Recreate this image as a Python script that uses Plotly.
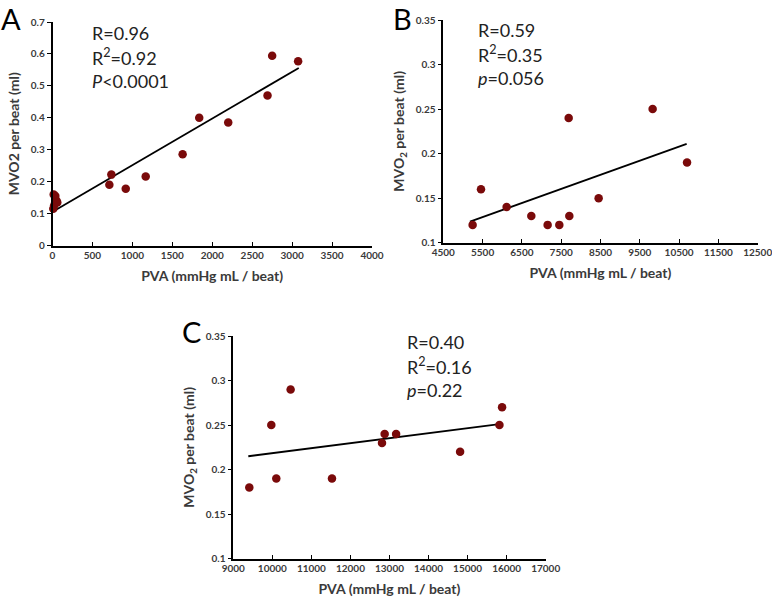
import plotly.graph_objects as go

W, H = 772, 600

# Panel A data
a_pva = [10, 20, 35, 50, 60, 15, 712, 737, 917, 1167, 1629, 1837, 2200, 2692, 2750, 3075]
a_mvo2 = [0.115, 0.125, 0.155, 0.14, 0.135, 0.16, 0.19, 0.222, 0.178, 0.216, 0.286, 0.40, 0.385, 0.47, 0.594, 0.577]
a_fit_x = [12, 3083]
a_fit_y = [0.107, 0.556]
# Panel B data
b_pva = [5246, 5459, 6112, 6740, 7155, 7452, 7690, 7707, 8453, 9827, 10702]
b_mvo2 = [0.12, 0.16, 0.14, 0.13, 0.12, 0.12, 0.24, 0.13, 0.15, 0.25, 0.19]
b_fit_x = [5179, 10693]
b_fit_y = [0.1236, 0.211]
# Panel C data
c_pva = [9410, 9973, 10101, 10468, 11527, 12808, 12876, 13169, 14808, 15815, 15883]
c_mvo2 = [0.18, 0.25, 0.19, 0.29, 0.19, 0.23, 0.24, 0.24, 0.22, 0.25, 0.27]
c_fit_x = [9384, 15815]
c_fit_y = [0.215, 0.251]

# Axis ticks
a_xticks = [0, 500, 1000, 1500, 2000, 2500, 3000, 3500, 4000]
a_yticks = [0, 0.1, 0.2, 0.3, 0.4, 0.5, 0.6, 0.7]
b_xticks = [4500, 5500, 6500, 7500, 8500, 9500, 10500, 11500, 12500]
b_yticks = [0.1, 0.15, 0.2, 0.25, 0.3, 0.35]
c_xticks = [9000, 10000, 11000, 12000, 13000, 14000, 15000, 16000, 17000]
c_yticks = [0.1, 0.15, 0.2, 0.25, 0.3, 0.35]

stats_a = ["R=0.96", "R<sup>2</sup>=0.92", "<i>P</i><0.0001"]
stats_b = ["R=0.59", "R<sup>2</sup>=0.35", "<i>p</i>=0.056"]
stats_c = ["R=0.40", "R<sup>2</sup>=0.16", "<i>p</i>=0.22"]

FONT = "Lato, 'Open Sans', Arial, sans-serif"
MARK = "#7a0a0a"
TXT = "#3a3a3a"


def px_x(p):
    return p / W


def px_y(p):
    return 1 - p / H


def fmt(v):
    return ("%g" % v)


fig = go.Figure()

panels = [
    ("", a_pva, a_mvo2, a_fit_x, a_fit_y, a_xticks, a_yticks, (52.5, 372), (22, 245.5), [0, 4000], [0, 0.7],
     "MVO2 per beat (ml)"),
    ("2", b_pva, b_mvo2, b_fit_x, b_fit_y, b_xticks, b_yticks, (443.3, 757.7), (20, 242.7), [4500, 12500], [0.1, 0.35],
     "MVO<sub>2</sub> per beat (ml)"),
    ("3", c_pva, c_mvo2, c_fit_x, c_fit_y, c_xticks, c_yticks, (233.3, 545.7), (336, 558.7), [9000, 17000], [0.1, 0.35],
     "MVO<sub>2</sub> per beat (ml)"),
]

for suf, xs, ys, fx, fy, xt, yt, (x0, x1), (y0, y1), xr, yr, ytitle in panels:
    xa = "x" + suf
    ya = "y" + suf
    fig.add_trace(go.Scatter(x=fx, y=fy, mode="lines", xaxis=xa, yaxis=ya,
                             line=dict(color="black", width=1.8), showlegend=False))
    fig.add_trace(go.Scatter(x=xs, y=ys, mode="markers", xaxis=xa, yaxis=ya,
                             marker=dict(color=MARK, size=8.5, line=dict(width=0)),
                             showlegend=False, cliponaxis=False))
    axis_common = dict(showgrid=False, zeroline=False, showline=True, linecolor="black",
                       linewidth=1.5, ticklen=4, tickcolor="black", tickwidth=1.3,
                       automargin=False, ticklabeloverflow="allow",
                       tickfont=dict(family=FONT, size=10, color=TXT, weight="bold"))
    fig.layout["xaxis" + suf] = dict(domain=[px_x(x0), px_x(x1)], range=xr, tickvals=xt,
                                     ticktext=[fmt(v) for v in xt],
                                     anchor=ya, ticks="inside",
                                     title=dict(text="PVA (mmHg mL / beat)", standoff=11,
                                                font=dict(family=FONT, size=14, color=TXT, weight="bold")),
                                     **axis_common)
    fig.layout["yaxis" + suf] = dict(domain=[px_y(y1), px_y(y0)], range=yr, tickvals=yt,
                                     ticktext=[fmt(v) for v in yt],
                                     anchor=xa, ticks="outside",
                                     title=dict(text=ytitle, standoff=8,
                                                font=dict(family=FONT, size=14, color=TXT, weight="bold")),
                                     **axis_common)

# panel letters
for letter, lx, ly, anc in [("A", 0, 0, "top"), ("B", 392, 0, "top"), ("C", 181, 331, "middle")]:
    fig.add_annotation(text=letter, x=px_x(lx), y=px_y(ly), xref="paper", yref="paper",
                       xanchor="left", yanchor=anc, showarrow=False, borderpad=0,
                       font=dict(family=FONT, size=29, color="black"))

# stats text
for lines, tx, ty in [(stats_a, 90, 33), (stats_b, 476, 30), (stats_c, 405, 342)]:
    for i, t in enumerate(lines):
        fig.add_annotation(text=t, x=px_x(tx), y=px_y(ty + 24 * i), xref="paper", yref="paper",
                           xanchor="left", yanchor="middle", showarrow=False,
                           font=dict(family=FONT, size=18, color="#222222"))

fig.update_layout(width=W, height=H, margin=dict(l=0, r=0, t=0, b=0),
                  plot_bgcolor="white", paper_bgcolor="white")

fig.write_html("out.html", config={"displayModeBar": False},
               post_script="document.body.style.margin='0';document.body.style.overflow='hidden';")
